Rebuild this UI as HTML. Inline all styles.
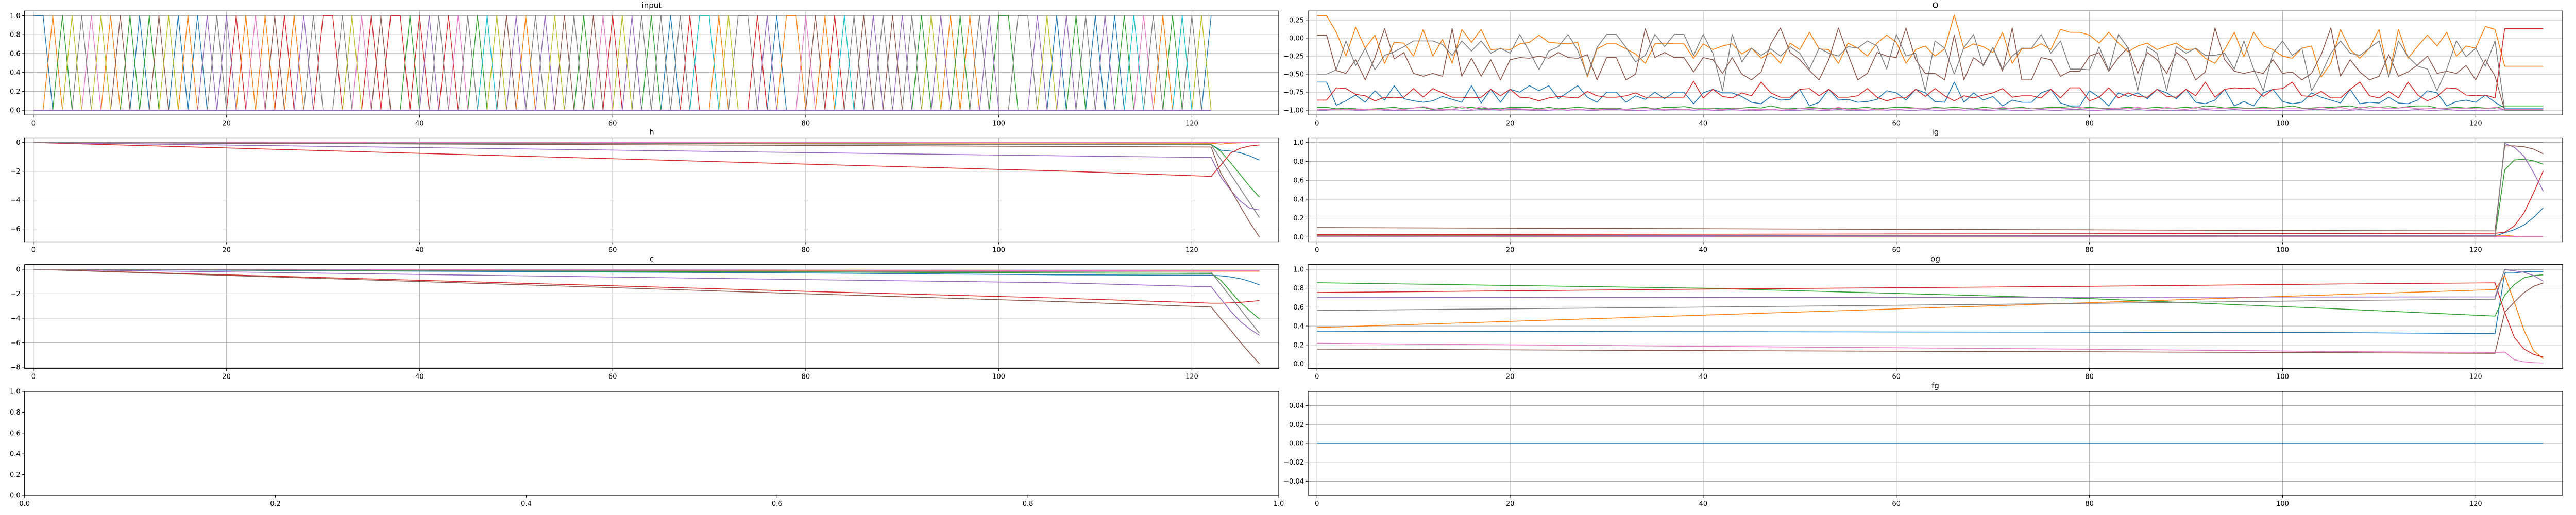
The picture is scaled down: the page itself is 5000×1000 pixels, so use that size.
<!DOCTYPE html>
<html><head><meta charset="utf-8">
<style>
html,body{margin:0;padding:0;background:#fff;}
svg{display:block;font-family:"DejaVu Sans","Liberation Sans",sans-serif;}
</style></head>
<body>
<svg id="fig" width="5000" height="1000" viewBox="0 0 5000 1000" xmlns="http://www.w3.org/2000/svg"></svg>
<script>
// ---------- DATA ----------
const colors = ["#1f77b4","#ff7f0e","#2ca02c","#d62728","#9467bd","#8c564b","#e377c2","#7f7f7f","#bcbd22","#17becf"];
const xTicks = [0,20,40,60,80,100,120];
// input: active one-hot index per timestep (t = 0..122)
const inputTokens = [0,0,1,2,8,7,6,8,1,5,2,0,2,5,8,0,1,0,4,7,4,3,1,6,1,5,3,1,4,7,3,3,7,8,6,3,5,3,3,2,
3,4,7,3,6,7,2,9,8,5,4,1,7,4,8,5,7,2,5,6,3,8,4,7,2,7,0,7,3,9,9,1,8,7,7,3,4,0,1,1,6,5,1,
3,9,7,5,4,7,5,4,7,2,8,4,1,2,1,7,4,2,2,7,7,4,8,0,4,2,7,0,4,0,2,9,6,7,1,2,9,7,8,0];
// O panel series (t = 0..127)
const oOrange = [.31,.31,.08,-.25,.15,-.14,.04,-.35,-.06,-.07,-.25,.12,-.25,-.02,-.35,.12,-.06,.12,-.16,-.15,-.16,-.08,-.06,.04,-.06,-.07,-.08,-.06,-.54,-.15,-.08,-.08,-.15,-.22,-.35,-.08,-.07,-.08,-.08,-.28,
-.08,-.16,-.11,-.08,-.22,-.14,-.28,-.20,-.35,-.07,-.16,.08,-.15,-.16,-.35,-.07,-.14,-.25,-.07,.04,-.06,-.35,-.16,-.11,-.25,-.15,.32,-.15,-.08,-.12,-.20,.08,-.35,-.15,-.15,-.08,-.16,.12,.08,.08,.04,-.07,.08,
-.07,-.19,-.11,-.07,-.16,-.11,-.07,-.16,-.15,-.28,-.35,-.16,.08,-.26,.08,-.11,-.16,-.25,-.28,-.14,-.11,-.54,-.35,.12,-.16,-.28,-.14,.12,-.54,.12,-.28,-.11,.04,-.11,.08,-.25,-.11,-.14,.16,.12,-.39,-.39,-.39,-.39,-.39];
const oGray = [-.5,-.5,-.44,-.04,-.38,-.14,-.44,-.24,-.19,-.12,-.04,-.04,-.04,-.09,-.24,-.04,-.18,-.04,-.21,-.14,-.21,.05,-.19,-.44,-.18,-.12,.05,-.17,-.52,-.13,.05,.05,-.13,-.33,-.24,.05,-.12,.05,.05,-.24,
.05,-.21,-.73,.05,-.33,-.14,-.24,-.15,-.25,-.12,-.21,-.43,-.14,-.21,-.25,-.12,-.14,-.04,-.11,-.43,.05,-.25,-.21,-.73,-.04,-.14,-.50,-.13,.05,-.39,-.13,-.43,-.25,-.14,-.14,.05,-.21,-.04,-.43,-.43,-.44,-.12,-.45,
.05,-.14,-.73,-.12,-.21,-.73,-.12,-.21,-.14,-.24,-.24,-.21,-.43,-.04,-.43,-.73,-.21,-.04,-.24,-.14,-.73,-.50,-.21,-.04,-.21,-.24,-.14,-.04,-.54,-.04,-.26,-.39,-.43,-.73,-.43,-.04,-.26,-.14,-.39,-.04,-1,-1,-1,-1,-1];
const oBrown = [.04,.04,-.45,-.49,-.30,-.58,-.27,.13,-.29,-.20,-.49,-.53,-.49,-.53,.13,-.53,-.28,-.53,-.30,-.58,-.30,-.27,-.28,-.25,-.28,-.20,-.27,-.28,-.23,-.58,-.27,-.27,-.58,-.50,.13,-.27,-.20,-.27,-.27,-.47,
-.27,-.30,-.49,-.27,-.50,-.58,-.47,-.08,.14,-.20,-.30,-.45,-.58,-.30,.14,-.23,-.58,-.49,-.20,-.25,-.27,.14,-.30,-.49,-.49,-.58,.04,-.58,-.27,-.37,-.13,-.46,.14,-.58,-.58,-.27,-.30,-.53,-.46,-.46,-.25,-.20,-.46,
-.27,-.13,-.49,-.20,-.30,-.49,-.20,-.30,-.58,-.47,.14,-.30,-.46,-.49,-.46,-.49,-.30,-.49,-.47,-.58,-.49,-.23,.14,-.53,-.30,-.47,-.58,-.53,-.23,-.53,-.47,-.37,-.25,-.49,-.46,-.49,-.38,-.58,-.30,-.53,-1,-1,-1,-1,-1];
const oBlue = [-.61,-.61,-.93,-.87,-.79,-.89,-.73,-.86,-.66,-.84,-.87,-.89,-.87,-.81,-.85,-.89,-.66,-.90,-.71,-.89,-.71,-.75,-.66,-.73,-.66,-.84,-.75,-.66,-.82,-.89,-.75,-.75,-.89,-.80,-.85,-.75,-.84,-.75,-.75,-.91,
-.76,-.71,-.76,-.76,-.81,-.89,-.91,-.81,-.86,-.85,-.71,-.94,-.89,-.71,-.86,-.85,-.89,-.88,-.85,-.73,-.76,-.86,-.71,-.76,-.88,-.89,-.61,-.89,-.76,-.86,-.81,-.94,-.86,-.89,-.89,-.76,-.71,-.90,-.94,-.94,-.73,-.82,-.94,
-.76,-.81,-.76,-.84,-.71,-.76,-.84,-.71,-.89,-.91,-.86,-.71,-.94,-.88,-.94,-.76,-.71,-.88,-.91,-.89,-.76,-.82,-.86,-.90,-.71,-.91,-.89,-.90,-.82,-.90,-.91,-.86,-.73,-.76,-.94,-.88,-.86,-.89,-.79,-.89,-.97,-.97,-.97,-.97,-.97];
const oRed = [-.86,-.86,-.69,-.70,-.78,-.80,-.87,-.82,-.83,-.82,-.70,-.82,-.70,-.76,-.82,-.82,-.83,-.82,-.71,-.80,-.71,-.82,-.83,-.87,-.83,-.81,-.82,-.83,-.74,-.80,-.82,-.82,-.80,-.76,-.82,-.82,-.82,-.82,-.82,-.60,
-.83,-.71,-.81,-.83,-.76,-.80,-.61,-.76,-.82,-.82,-.71,-.70,-.80,-.71,-.82,-.82,-.80,-.70,-.82,-.87,-.83,-.83,-.71,-.81,-.70,-.80,-.87,-.80,-.83,-.79,-.76,-.70,-.82,-.80,-.80,-.83,-.71,-.83,-.69,-.69,-.87,-.82,-.69,
-.83,-.76,-.81,-.82,-.71,-.81,-.82,-.71,-.80,-.61,-.82,-.71,-.69,-.70,-.69,-.81,-.71,-.70,-.61,-.80,-.81,-.74,-.83,-.83,-.71,-.61,-.80,-.83,-.74,-.83,-.61,-.79,-.87,-.81,-.69,-.70,-.79,-.80,-.79,-.83,.13,.13,.13,.13,.13];
const oGreen = [-.96,-.96,-.98,-.97,-.98,-.99,-.98,-.97,-.96,-.98,-.97,-.96,-.99,-.97,-.95,-.97,-.96,-.98,-.97,-.98,-.96,-.96,-.96,-.98,-.96,-.98,-.97,-.96,-.97,-.98,-.97,-.97,-.99,-.97,-.96,-.98,-.96,-.96,-.95,-.97,
-.97,-.97,-.98,-.97,-.97,-.96,-.97,-.94,-.97,-.97,-.98,-.96,-.97,-.98,-.97,-.98,-.97,-.96,-.98,-.97,-.96,-.96,-.97,-.98,-.96,-.97,-.96,-.97,-.98,-.96,-.97,-.98,-.97,-.96,-.98,-.97,-.96,-.96,-.95,-.97,-.96,-.97,-.97,
-.97,-.96,-.97,-.97,-.96,-.97,-.97,-.96,-.97,-.94,-.95,-.97,-.96,-.97,-.97,-.96,-.97,-.96,-.94,-.97,-.97,-.96,-.96,-.95,-.94,-.97,-.95,-.96,-.95,-.97,-.95,-.94,-.94,-.97,-.97,-.96,-.97,-.96,-.97,-.97,-.94,-.94,-.94,-.94,-.94];
const oPink = [-.99,-.99,-.99,-.99,-.99,-.99,-.99,-.99,-.98,-.99,-.97,-.95,-.98,-.99,-.99,-.95,-.99,-.95,-.98,-.99,-.97,-.98,-.99,-.99,-.98,-.99,-.98,-.99,-.98,-.99,-.98,-.98,-.99,-.98,-.98,-.98,-.99,-.98,-.99,-.98,
-.99,-.98,-.99,-.98,-.98,-.99,-.99,-.99,-.98,-.99,-.98,-.97,-.98,-.99,-.96,-.99,-.99,-.98,-.99,-.98,-.99,-.98,-.97,-.98,-.98,-.98,-.99,-.98,-.98,-.99,-.98,-.96,-.98,-.98,-.98,-.98,-.98,-.98,-.97,-.96,-.98,-.98,-.98,
-.97,-.98,-.96,-.98,-.99,-.96,-.98,-.99,-.96,-.98,-.98,-.97,-.98,-.98,-.98,-.97,-.98,-.98,-.98,-.98,-.98,-.96,-.98,-.96,-.99,-.96,-.97,-.96,-.98,-.97,-.96,-.98,-.98,-.97,-.98,-.98,-.97,-.98,-.98,-.96,-.99,-.99,-.99,-.99,-.99];
const oPurple = [-1,-1,-.99,-.99,-1,-1,-.99,-1,-1,-1,-1,-1,-1,-1,-.99,-1,-1,-.99,-.99,-1,-.99,-.99,-1,-1,-1,-.99,-1,-.99,-1,-1,-.99,-.99,-1,-1,-1,-.99,-1,-.99,-.99,-1,
-.99,-1,-1,-.99,-1,-1,-1,-.99,-1,-1,-1,-.99,-1,-1,-.99,-1,-1,-1,-.99,-1,-.99,-1,-1,-.99,-1,-1,-.99,-1,-.99,-1,-1,-.99,-1,-1,-1,-.99,-1,-1,-.99,-.99,-1,-1,-.99,
-.99,-1,-.99,-1,-1,-1,-1,-1,-1,-.99,-1,-1,-.99,-1,-1,-1,-1,-1,-1,-1,-.99,-.99,-1,-1,-1,-.99,-1,-1,-1,-1,-1,-.99,-1,-1,-.99,-1,-1,-1,-1,-1,-.99,-.99,-.99,-.99,-.99];
// h / c / ig / og : sampled timesteps and values
const keyT = [0,40,80,106,122,123,124,125,126,127];
const hBlue=[0,-.04,-.09,-.12,-.14,-.53,-.59,-.71,-.93,-1.22];
const hOrange=[0,-.02,-.03,-.04,-.05,-.11,-.05,-.02,0,0];
const hGreen=[0,-.05,-.09,-.12,-.14,-.62,-1.39,-2.22,-3.05,-3.79];
const hRed=[0,-.75,-1.5,-1.97,-2.35,-1.57,-.74,-.40,-.24,-.17];
const hPurple=[0,-.35,-.7,-.92,-1.04,-2.4,-3.29,-4.06,-4.56,-4.68];
const hBrown=[0,-.1,-.2,-.27,-.31,-2.14,-3.23,-4.42,-5.55,-6.56];
const hPink=[0,0,0,0,0,0,0,0,0,0];
const hGray=[0,-.05,-.1,-.14,-.16,-1.17,-2.18,-3.19,-4.2,-5.21];
const cBlue=[0,-.15,-.3,-.45,-.49,-.53,-.62,-.76,-.98,-1.27];
const cOrange=[0,-.05,-.1,-.13,-.15,-.15,-.15,-.15,-.15,-.15];
const cGreen=[0,-.11,-.22,-.3,-.34,-.9,-1.8,-2.7,-3.4,-4.06];
const cRed=[0,-.9,-1.8,-2.35,-2.77,-2.77,-2.74,-2.7,-2.63,-2.56];
const cPurple=[0,-.42,-.84,-1.1,-1.43,-2.42,-3.4,-4.25,-4.88,-5.4];
const cBrown=[0,-1.0,-2.0,-2.63,-3.08,-4.04,-4.95,-5.94,-6.85,-7.72];
const cPink=[0,-.04,-.07,-.1,-.11,-.11,-.11,-.11,-.11,-.11];
const cGray=[0,-.08,-.16,-.21,-.24,-1.24,-2.24,-3.24,-4.24,-5.23];
const igBlue=[.01,.01,.01,.01,.01,.045,.078,.127,.208,.31];
const igOrange=[.018,.018,.018,.018,.018,.018,.009,.005,.005,.005];
const igGreen=[.008,.008,.008,.008,.008,.71,.815,.824,.806,.77];
const igRed=[.025,.03,.035,.038,.04,.05,.118,.254,.47,.70];
const igPurple=[.012,.014,.016,.018,.02,.99,.95,.855,.68,.485];
const igBrown=[.1,.088,.076,.068,.065,.964,.964,.955,.93,.88];
const igPink=[.005,.005,.005,.005,.005,.005,.005,.005,.005,.005];
const igGray=[.01,.01,.01,.01,.01,1,1,1,1,1];
const ogBlue=[.346,.34,.335,.33,.32,.96,.96,.973,.977,.977];
const ogOrange=[.384,.515,.647,.733,.785,.933,.653,.356,.139,.054];
const ogGreen=[.858,.8,.69,.58,.505,.726,.838,.91,.933,.942];
const ogRed=[.754,.79,.82,.845,.857,.545,.28,.157,.10,.072];
const ogPurple=[.70,.703,.705,.707,.708,.996,.984,.968,.933,.875];
const ogBrown=[.156,.14,.128,.118,.112,.545,.653,.753,.82,.856];
const ogPink=[.218,.185,.155,.13,.121,.125,.043,.022,.013,.009];
const ogGray=[.564,.6,.64,.67,.684,1,1,1,1,1];
const fgT = [0,127];
const fgBlue = [0,0];

// ---------- LAYOUT ----------
const NS="http://www.w3.org/2000/svg";
const svg=document.getElementById("fig");
const XL=[-0.92,129.0];
const colL=[47.7,2482], colR=[2539,4974];
const rows=[[21.3,223.3],[267.5,469.5],[513.7,715.7],[760,962]];
function mk(tag,attrs,parent){const e=document.createElementNS(NS,tag);for(const k in attrs)e.setAttribute(k,attrs[k]);(parent||svg).appendChild(e);return e;}
function minus(s){return s.replace(/-/g,"\u2212");}

function makeAxes(name,col,row,ylim,yticks,ydec,title,xlim,xt,xdec,grid){
  const g=mk("g",{});
  
  
  const [x0,x1]=col,[y0,y1]=row;
  const xs=v=>x0+(v-xlim[0])/(xlim[1]-xlim[0])*(x1-x0);
  const ys=v=>y1-(v-ylim[0])/(ylim[1]-ylim[0])*(y1-y0);
  if(grid){
    for(const t of xt){const l=mk("line",{x1:xs(t),x2:xs(t),y1:y0,y2:y1,stroke:"#b0b0b0","stroke-width":1},g);
      }
    for(const t of yticks){const l=mk("line",{x1:x0,x2:x1,y1:ys(t),y2:ys(t),stroke:"#b0b0b0","stroke-width":1},g);
      }
  }
  const plot=mk("g",{},g);
  
  
  for(const t of xt){
    const tk=mk("line",{x1:xs(t),x2:xs(t),y1:y1,y2:y1+5,stroke:"#000","stroke-width":1},g);
    
    const tx=mk("text",{x:xs(t),y:y1+20,"text-anchor":"middle","font-size":13,fill:"#000"},g);
    tx.textContent=t.toFixed(xdec);
    
  }
  for(const t of yticks){
    const tk=mk("line",{x1:x0-5,x2:x0,y1:ys(t),y2:ys(t),stroke:"#000","stroke-width":1},g);
    
    const tx=mk("text",{x:x0-8,y:ys(t)+4.5,"text-anchor":"end","font-size":13,fill:"#000"},g);
    tx.textContent=minus(t.toFixed(ydec));
    
  }
  const fr=mk("rect",{x:x0,y:y0,width:x1-x0,height:y1-y0,fill:"none",stroke:"#000","stroke-width":1.2},g);
  
  if(title){const tt=mk("text",{x:(x0+x1)/2,y:y0-6,"text-anchor":"middle","font-size":15,fill:"#000"},g);
    tt.textContent=title;}
  return {plot,xs,ys,y0,y1,x0,x1};
}
function line(ax,tArr,vArr,color,lw,nm){
  const pts=tArr.map((t,i)=>ax.xs(t).toFixed(2)+","+ax.ys(vArr[i]).toFixed(2)).join(" ");
  const p=mk("polyline",{points:pts,fill:"none",stroke:color,"stroke-width":lw,"stroke-linejoin":"round"},ax.plot);
  
  
  return p;
}
const seqT=n=>Array.from({length:n},(_,i)=>i);

// input
const aIn=makeAxes("input",colL,rows[0],[-0.05,1.05],[0,0.2,0.4,0.6,0.8,1.0],1,"input",XL,xTicks,0,true);
const tIn=seqT(inputTokens.length);
for(let k=0;k<10;k++){
  const vals=inputTokens.map(tok=>tok===k?1:0);
  line(aIn,tIn,vals,colors[k],1.4,'input-dim-'+k);
}
line(aIn,tIn,inputTokens.map(()=>0),colors[4],2,'input-baseline');

// O
const aO=makeAxes("o",colR,rows[0],[-1.066,0.375],[0.25,0,-0.25,-0.5,-0.75,-1.0],2,"O",XL,xTicks,0,true);
const tO=seqT(128);
const oSeries=[[oBlue,0],[oOrange,1],[oGreen,2],[oRed,3],[oPurple,4],[oBrown,5],[oPink,6],[oGray,7]];
for(const [arr,ci] of oSeries) line(aO,tO,arr,colors[ci],1.6,'o-series-'+ci);

// h
const aH=makeAxes("h",colL,rows[1],[-6.89,0.33],[0,-2,-4,-6],0,"h",XL,xTicks,0,true);
[[hBlue,0],[hOrange,1],[hGreen,2],[hRed,3],[hPurple,4],[hBrown,5],[hPink,6],[hGray,7]].forEach(([a,c])=>line(aH,keyT,a,colors[c],1.6,'h-series-'+c));
// ig
const aIg=makeAxes("ig",colR,rows[1],[-0.05,1.05],[0,0.2,0.4,0.6,0.8,1.0],1,"ig",XL,xTicks,0,true);
[[igBlue,0],[igOrange,1],[igGreen,2],[igRed,3],[igPurple,4],[igBrown,5],[igPink,6],[igGray,7]].forEach(([a,c])=>line(aIg,keyT,a,colors[c],1.6,'ig-series-'+c));
// c
const aC=makeAxes("c",colL,rows[2],[-8.12,0.39],[0,-2,-4,-6,-8],0,"c",XL,xTicks,0,true);
[[cBlue,0],[cOrange,1],[cGreen,2],[cRed,3],[cPurple,4],[cBrown,5],[cPink,6],[cGray,7]].forEach(([a,c])=>line(aC,keyT,a,colors[c],1.6,'c-series-'+c));
// og
const aOg=makeAxes("og",colR,rows[2],[-0.05,1.05],[0,0.2,0.4,0.6,0.8,1.0],1,"og",XL,xTicks,0,true);
[[ogBlue,0],[ogOrange,1],[ogGreen,2],[ogRed,3],[ogPurple,4],[ogBrown,5],[ogPink,6],[ogGray,7]].forEach(([a,c])=>line(aOg,keyT,a,colors[c],1.6,'og-series-'+c));
// empty
makeAxes("empty",colL,rows[3],[0,1],[0,0.2,0.4,0.6,0.8,1.0],1,"",[0,1],[0,0.2,0.4,0.6,0.8,1.0],1,false);
// fg
const aFg=makeAxes("fg",colR,rows[3],[-0.055,0.055],[0.04,0.02,0,-0.02,-0.04],2,"fg",XL,xTicks,0,true);
line(aFg,fgT,fgBlue,colors[0],1.6,'fg-series-0');
</script>
</body></html>
